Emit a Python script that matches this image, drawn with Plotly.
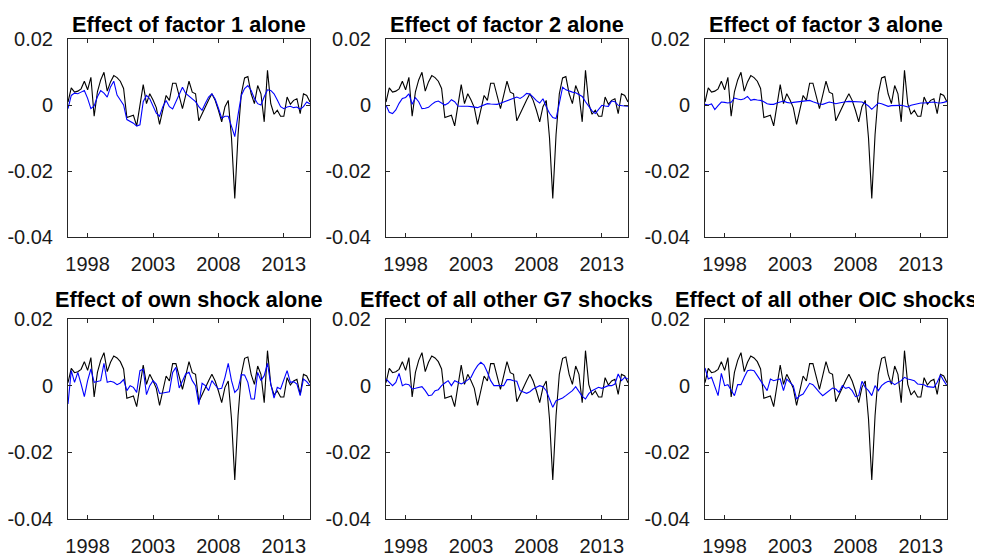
import plotly.graph_objects as go

# ---------------- data ----------------
start_year = 1996.5          # first quarter (1996Q3)
n_quarters = 75
quarters = [start_year + 0.25 * i for i in range(n_quarters)]

actual = [0.0009, 0.0052, 0.0039, 0.0042, 0.0049, 0.0072, 0.0046, 0.0084, -0.0034, 0.0040,
          0.0076, 0.0099, 0.0042, 0.0070, 0.0089, 0.0083, 0.0072, 0.0050, -0.0038, -0.0035,
          -0.0031, -0.0063, 0.0005, 0.0062, 0.0004, 0.0034, 0.0015, -0.0008, -0.0059, -0.0015,
          0.0029, 0.0014, 0.0066, 0.0066, 0.0025, -0.0011, 0.0030, 0.0072, 0.0039, 0.0034,
          -0.0048, -0.0026, -0.0003, 0.0015, 0.0034, 0.0014, -0.0016, -0.0051, -0.0005, 0.0014,
          -0.0100, -0.0283, -0.0090, 0.0034, 0.0082, 0.0086, 0.0034, 0.0004, 0.0059, 0.0034,
          -0.0051, 0.0105, 0.0004, -0.0028, -0.0016, -0.0034, -0.0034, 0.0024, 0.0002, 0.0014,
          0.0019, -0.0026, 0.0034, 0.0029, 0.0009]

factor1 = [-0.0011, 0.0029, 0.0036, 0.0034, 0.0039, 0.0044, 0.0020, -0.0011, -0.0003, 0.0025,
           0.0044, 0.0036, 0.0024, 0.0055, 0.0072, 0.0030, 0.0015, 0.0000, -0.0044, -0.0050,
           -0.0055, -0.0064, -0.0060, 0.0010, 0.0029, 0.0019, -0.0005, -0.0025, -0.0034, -0.0005,
           0.0014, -0.0005, -0.0012, 0.0009, 0.0035, 0.0054, 0.0035, 0.0027, 0.0020, 0.0010,
           -0.0005, -0.0016, 0.0005, 0.0024, 0.0034, 0.0018, -0.0010, -0.0040, -0.0034, -0.0034,
           -0.0065, -0.0096, -0.0030, 0.0029, 0.0050, 0.0059, 0.0044, 0.0020, 0.0004, 0.0000,
           0.0025, 0.0046, 0.0044, 0.0034, 0.0015, -0.0005, -0.0011, -0.0006, -0.0004, -0.0008,
           -0.0006, -0.0013, -0.0005, 0.0009, 0.0003]

factor2 = [-0.0001, -0.0022, -0.0026, -0.0015, 0.0005, 0.0020, 0.0023, 0.0034, 0.0002, 0.0022,
           0.0010, -0.0011, -0.0010, -0.0007, 0.0002, 0.0009, 0.0012, 0.0005, 0.0000, 0.0005,
           0.0016, 0.0010, -0.0003, -0.0004, -0.0003, -0.0004, -0.0005, -0.0007, -0.0008, -0.0004,
           0.0000, 0.0004, 0.0003, 0.0002, 0.0002, 0.0005, 0.0009, 0.0014, 0.0016, 0.0020,
           0.0024, 0.0020, 0.0026, 0.0035, 0.0033, 0.0024, 0.0013, 0.0006, 0.0019, -0.0005,
           -0.0025, -0.0038, -0.0041, 0.0005, 0.0054, 0.0046, 0.0042, 0.0039, 0.0037, 0.0032,
           0.0026, 0.0010, -0.0006, -0.0018, -0.0026, -0.0015, -0.0001, -0.0003, -0.0004, 0.0012,
           0.0010, -0.0001, -0.0003, -0.0003, -0.0004]

factor3 = [0.0002, 0.0000, 0.0003, -0.0014, -0.0002, 0.0009, 0.0008, 0.0006, 0.0008, 0.0021,
           0.0018, 0.0016, 0.0019, 0.0026, 0.0014, 0.0017, 0.0015, 0.0014, 0.0010, 0.0004,
           0.0002, 0.0002, 0.0006, 0.0009, 0.0012, 0.0008, 0.0006, 0.0008, 0.0009, 0.0010,
           0.0012, 0.0014, 0.0014, 0.0010, 0.0006, 0.0003, 0.0002, 0.0005, 0.0009, 0.0007,
           0.0004, 0.0006, 0.0009, 0.0010, 0.0011, 0.0010, 0.0009, 0.0008, 0.0009, 0.0004,
           -0.0003, -0.0013, -0.0002, 0.0006, 0.0004, 0.0001, -0.0004, -0.0002, -0.0001, -0.0001,
           -0.0001, -0.0003, -0.0006, -0.0001, 0.0002, 0.0005, 0.0006, 0.0006, 0.0007, 0.0008,
           0.0009, 0.0007, 0.0006, 0.0008, 0.0011]

own_shock = [-0.0055, 0.0045, 0.0010, 0.0040, 0.0005, -0.0033, 0.0015, 0.0050, 0.0010, 0.0013,
             0.0015, 0.0067, 0.0010, 0.0013, 0.0010, 0.0003, 0.0008, 0.0018, -0.0015, 0.0000,
             -0.0005, -0.0020, 0.0045, 0.0050, -0.0027, 0.0000, 0.0015, 0.0005, -0.0023, -0.0022,
             -0.0020, -0.0018, 0.0040, 0.0055, -0.0007, 0.0015, 0.0035, 0.0040, 0.0015, 0.0000,
             -0.0057, 0.0007, 0.0000, -0.0015, 0.0015, 0.0002, -0.0010, -0.0008, 0.0025, 0.0067,
             0.0015, -0.0020, -0.0010, 0.0033, 0.0032, 0.0010, -0.0040, -0.0040, 0.0040, 0.0015,
             0.0030, 0.0067, 0.0005, -0.0037, -0.0005, -0.0010, 0.0020, 0.0045, 0.0010, 0.0012,
             0.0005, -0.0030, 0.0020, 0.0012, 0.0000]

g7_shocks = [0.0020, 0.0010, 0.0000, 0.0010, 0.0037, 0.0000, 0.0005, 0.0003, -0.0010, -0.0008,
             -0.0005, -0.0003, -0.0015, -0.0030, -0.0028, -0.0015, -0.0012, 0.0000, 0.0008, 0.0015,
             0.0000, 0.0015, 0.0010, 0.0005, 0.0010, 0.0018, 0.0025, 0.0045, 0.0060, 0.0070,
             0.0062, 0.0040, 0.0015, 0.0000, 0.0000, -0.0002, 0.0000, 0.0018, 0.0018, 0.0015,
             0.0013, -0.0015, -0.0020, -0.0023, -0.0018, -0.0010, -0.0005, 0.0000, -0.0003, -0.0015,
             -0.0040, -0.0065, -0.0045, -0.0042, -0.0037, -0.0030, -0.0023, -0.0015, -0.0003, -0.0018,
             -0.0032, -0.0040, -0.0024, -0.0015, -0.0010, -0.0005, -0.0008, -0.0005, 0.0000, 0.0000,
             0.0005, 0.0035, 0.0015, 0.0025, 0.0020]

oic_shocks = [0.0053, 0.0020, 0.0025, -0.0002, -0.0030, 0.0037, 0.0000, 0.0003, -0.0015, -0.0030,
              0.0003, 0.0003, 0.0025, 0.0045, 0.0047, 0.0045, 0.0030, 0.0015, 0.0000, -0.0015,
              0.0020, 0.0015, 0.0018, 0.0020, -0.0015, 0.0020, 0.0010, 0.0000, -0.0040, -0.0030,
              -0.0025, -0.0010, 0.0007, 0.0003, -0.0010, -0.0020, -0.0030, -0.0022, -0.0015, -0.0007,
              -0.0010, -0.0020, 0.0000, -0.0008, -0.0005, -0.0015, -0.0033, -0.0030, 0.0013, -0.0005,
              -0.0015, -0.0030, 0.0000, -0.0015, 0.0000, 0.0008, 0.0013, 0.0010, 0.0003, 0.0010,
              0.0015, 0.0025, 0.0020, 0.0018, 0.0015, 0.0005, 0.0005, 0.0003, -0.0003, -0.0005,
              -0.0005, 0.0010, 0.0032, 0.0015, 0.0000]

panel_titles = ["Effect of factor 1 alone", "Effect of factor 2 alone", "Effect of factor 3 alone",
                "Effect of own shock alone", "Effect of all other G7 shocks",
                "Effect of all other OIC shocks"]
panel_series = [factor1, factor2, factor3, own_shock, g7_shocks, oic_shocks]

x_tick_vals = [1998, 2003, 2008, 2013]
x_tick_text = ["1998", "2003", "2008", "2013"]
y_tick_vals = [0.02, 0.0, -0.02, -0.04]
y_tick_text = ["0.02", "0", "-0.02", "-0.04"]

# ---------------- layout geometry (pixels in the 982x559 window) ----------------
PAGE_OFFSET = 8               # default page margin around the plot div
W, H = 982 - PAGE_OFFSET, 559 - PAGE_OFFSET
col_px = [(68, 310), (386, 628), (705, 947)]
row_px = [(39, 237), (319, 519)]
title_shift = [0, 5]

FONT = "Liberation Sans, Arial, Helvetica, sans-serif"
AX_COLOR = "#262626"


def fx(px):
    return (px - PAGE_OFFSET) / W


def fy(py):
    return 1 - (py - PAGE_OFFSET) / H


fig = go.Figure()
annotations = []
layout_axes = {}

for k, (title, series) in enumerate(zip(panel_titles, panel_series)):
    r, c = divmod(k, 3)
    n = k + 1
    xa = "x" if n == 1 else f"x{n}"
    ya = "y" if n == 1 else f"y{n}"
    fig.add_trace(go.Scatter(x=quarters, y=actual, mode="lines", xaxis=xa, yaxis=ya,
                             line=dict(color="black", width=1.1), showlegend=False,
                             hoverinfo="skip"))
    fig.add_trace(go.Scatter(x=quarters, y=series, mode="lines", xaxis=xa, yaxis=ya,
                             line=dict(color="#0000ff", width=1.1), showlegend=False,
                             hoverinfo="skip"))
    x0, x1 = col_px[c]
    y0, y1 = row_px[r]
    common = dict(showgrid=False, zeroline=False, showline=True, linecolor=AX_COLOR,
                  linewidth=1, mirror="ticks", ticks="inside", ticklen=4, tickcolor=AX_COLOR,
                  tickwidth=1, automargin=False,
                  tickfont=dict(family=FONT, size=20, color="#1a1a1a"))
    layout_axes["xaxis" if n == 1 else f"xaxis{n}"] = dict(
        domain=[fx(x0), fx(x1)], range=[quarters[0], quarters[-1]], anchor=ya,
        tickvals=x_tick_vals, ticktext=x_tick_text, ticklabelstandoff=9, **common)
    layout_axes["yaxis" if n == 1 else f"yaxis{n}"] = dict(
        domain=[fy(y1), fy(y0)], range=[-0.04, 0.02], anchor=xa,
        tickvals=y_tick_vals, ticktext=y_tick_text, ticklabelstandoff=10, **common)
    annotations.append(dict(text=f"<b>{title}</b>", x=fx((x0 + x1) / 2), y=fy(y0),
                            xref="paper", yref="paper", xanchor="center", yanchor="bottom",
                            yshift=title_shift[r], showarrow=False,
                            font=dict(family=FONT, size=21.7, color="black")))

fig.update_layout(template="none", width=W, height=H, margin=dict(l=0, r=0, t=0, b=0),
                  paper_bgcolor="white", plot_bgcolor="white",
                  annotations=annotations, **layout_axes)

fig.write_html("out.html")
